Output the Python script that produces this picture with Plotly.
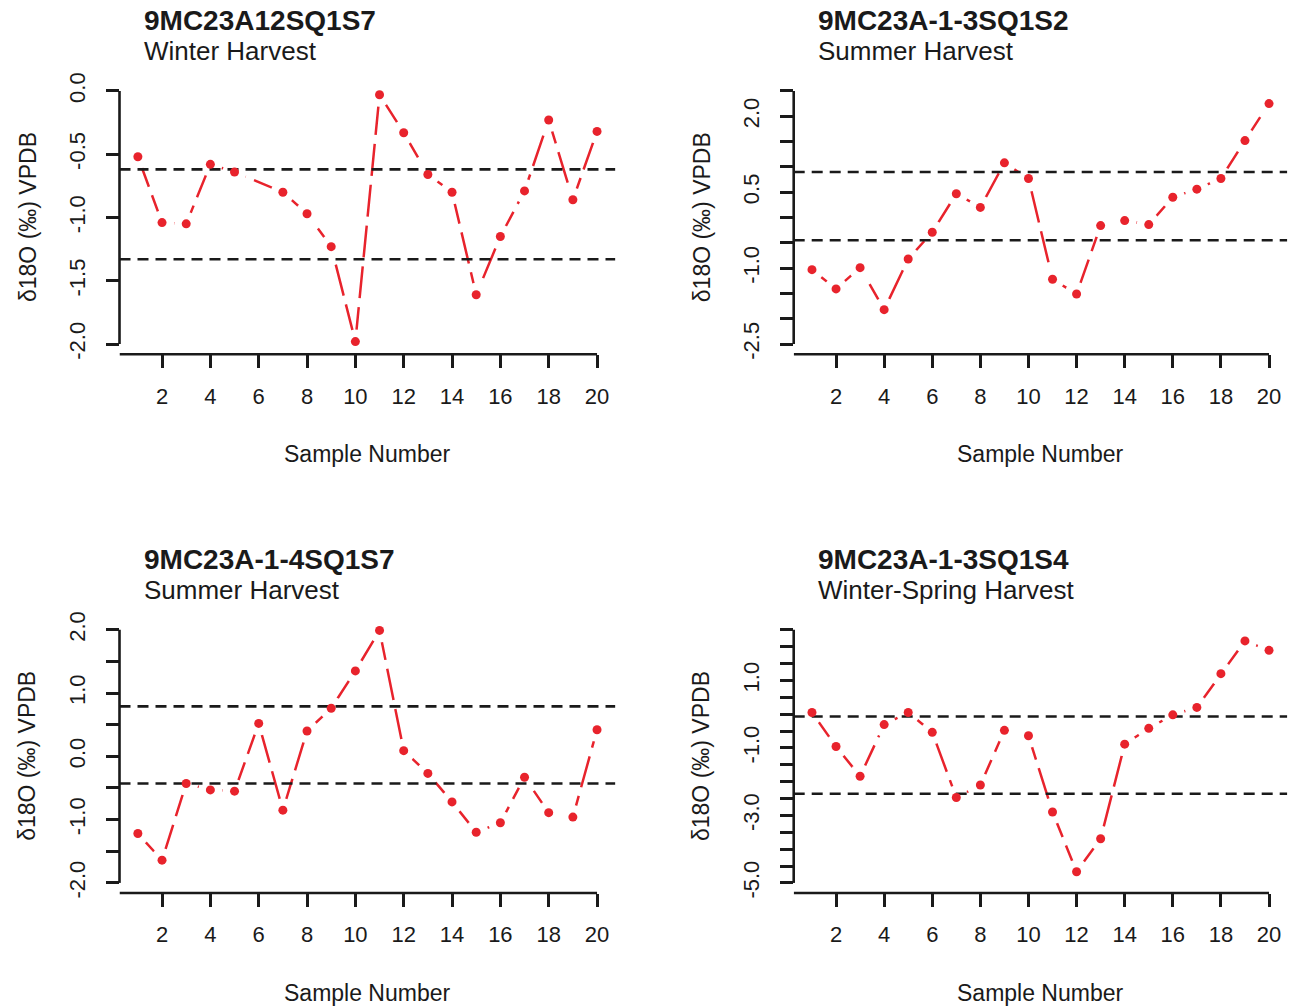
import plotly.graph_objects as go

W, H = 1298, 1008

# ---------------- data ----------------
samples = list(range(1, 21))
samples_a = [1, 2, 3, 4, 5, 7, 8, 9, 10, 11, 12, 13, 14, 15, 16, 17, 18, 19, 20]  # sample 6 absent

d18o_a = [-0.52, -1.04, -1.05, -0.58, -0.64, -0.80, -0.97, -1.23, -1.98, -0.03,
          -0.33, -0.66, -0.80, -1.61, -1.15, -0.79, -0.23, -0.86, -0.32]
d18o_b = [-1.03, -1.41, -0.99, -1.82, -0.82, -0.29, 0.47, 0.20, 1.08, 0.77,
          -1.22, -1.51, -0.16, -0.06, -0.14, 0.40, 0.56, 0.77, 1.52, 2.25]
d18o_c = [-1.22, -1.64, -0.43, -0.53, -0.55, 0.52, -0.85, 0.40, 0.76, 1.35,
          1.99, 0.09, -0.27, -0.72, -1.20, -1.05, -0.33, -0.89, -0.96, 0.42]
d18o_d = [0.05, -0.96, -1.84, -0.31, 0.05, -0.54, -2.47, -2.10, -0.48, -0.64,
          -2.90, -4.67, -3.69, -0.89, -0.42, -0.02, 0.20, 1.20, 2.17, 1.89]

thresh_a = [-0.62, -1.33]
thresh_b = [0.90, -0.45]
thresh_c = [0.79, -0.43]
thresh_d = [-0.07, -2.36]

titles = ["9MC23A12SQ1S7", "9MC23A-1-3SQ1S2", "9MC23A-1-4SQ1S7", "9MC23A-1-3SQ1S4"]
subtitles = ["Winter Harvest", "Summer Harvest", "Summer Harvest", "Winter-Spring Harvest"]

ylims = [(-2.0, 0.0), (-2.5, 2.5), (-2.0, 2.0), (-5.0, 2.5)]
ytick_a = [-2.0, -1.5, -1.0, -0.5, 0.0]
ytext_a = ["-2.0", "-1.5", "-1.0", "-0.5", "0.0"]
ytick_b = [-2.5, -2.0, -1.5, -1.0, -0.5, 0.0, 0.5, 1.0, 1.5, 2.0, 2.5]
ytext_b = ["-2.5", "", "", "-1.0", "", "", "0.5", "", "", "2.0", ""]
ytick_c = [-2.0, -1.5, -1.0, -0.5, 0.0, 0.5, 1.0, 1.5, 2.0]
ytext_c = ["-2.0", "", "-1.0", "", "0.0", "", "1.0", "", "2.0"]
ytick_d = [-5.0, -4.5, -4.0, -3.5, -3.0, -2.5, -2.0, -1.5, -1.0, -0.5, 0.0, 0.5, 1.0, 1.5, 2.0, 2.5]
ytext_d = ["-5.0", "", "", "", "-3.0", "", "", "", "-1.0", "", "", "", "1.0", "", "", ""]
xticks = [2, 4, 6, 8, 10, 12, 14, 16, 18, 20]
xtext = ["2", "4", "6", "8", "10", "12", "14", "16", "18", "20"]

xs = [samples_a, samples, samples, samples]
ys = [d18o_a, d18o_b, d18o_c, d18o_d]
ths = [thresh_a, thresh_b, thresh_c, thresh_d]
ytv = [ytick_a, ytick_b, ytick_c, ytick_d]
ytt = [ytext_a, ytext_b, ytext_c, ytext_d]

# ---------------- style / layout ----------------
RED = "#E8232C"
INK = "#1a1a1a"
FONT = "Liberation Sans, Arial, sans-serif"


def ry(p):
    # vertical pixel position measured on the reference -> layout pixel
    return (p - 7.3) / 0.9856


# plot regions in pixels (left, right, top, bottom) as measured on the reference
regions = [
    (119.5, 615.4, 80, 353),
    (793.7, 1287.3, 80, 353),
    (119.5, 615.4, 618, 891),
    (793.7, 1287.3, 618, 891),
]
xlim = (1, 20)

def ext(lo, hi):
    d = (hi - lo) * 0.04
    return [lo - d, hi + d]

fig = go.Figure()
annotations = []
shapes = []
layout = {}

for i in range(4):
    n = "" if i == 0 else str(i + 1)
    xa, ya = "x" + n, "y" + n
    L, R, T, B = regions[i]
    xr = ext(*xlim)
    yr = ext(*ylims[i])

    # red connecting line
    fig.add_trace(go.Scatter(x=xs[i], y=ys[i], mode="lines", xaxis=xa, yaxis=ya,
                             line=dict(color=RED, width=2.5, dash="32px,9px"),
                             hoverinfo="skip", showlegend=False))
    # white gaps around points (type="b" look)
    fig.add_trace(go.Scatter(x=xs[i], y=ys[i], mode="markers", xaxis=xa, yaxis=ya,
                             marker=dict(color="white", size=24, line=dict(width=0)),
                             hoverinfo="skip", showlegend=False))
    # horizontal dashed reference lines
    for t in ths[i]:
        fig.add_trace(go.Scatter(x=xr, y=[t, t], mode="lines", xaxis=xa, yaxis=ya,
                                 line=dict(color=INK, width=2.6, dash="11px,7px"),
                                 hoverinfo="skip", showlegend=False))
    # points
    fig.add_trace(go.Scatter(x=xs[i], y=ys[i], mode="markers", xaxis=xa, yaxis=ya,
                             marker=dict(color=RED, size=9, line=dict(width=0)),
                             showlegend=False))

    layout["xaxis" + n] = dict(
        domain=[L / W, R / W], range=xr, anchor=ya,
        tickvals=xticks, ticktext=xtext, ticks="outside", ticklen=13, tickwidth=2.5,
        tickcolor=INK, showline=False, showgrid=False, zeroline=False,
        tickfont=dict(family=FONT, size=22, color=INK), ticklabelstandoff=9,
    )
    layout["yaxis" + n] = dict(
        domain=[1 - ry(B) / H, 1 - ry(T) / H], range=yr, anchor=xa,
        tickvals=ytv[i], ticktext=ytt[i], ticks="outside", ticklen=13, tickwidth=2.5,
        tickcolor=INK, showline=False, showgrid=False, zeroline=False, tickangle=-90,
        tickfont=dict(family=FONT, size=22, color=INK), ticklabelstandoff=12,
    )

    # R-style axis lines
    shapes.append(dict(type="line", xref=xa + " domain", yref=ya, x0=0, x1=0,
                       y0=min(ytv[i]), y1=max(ytv[i]), line=dict(color=INK, width=2.6)))
    shapes.append(dict(type="line", xref=xa, yref=ya + " domain", x0=xr[0], x1=max(xticks),
                       y0=0, y1=0, line=dict(color=INK, width=2.6)))

    off = T - 80
    annotations.append(dict(text="<b>" + titles[i] + "</b>", x=(L + 22.5) / W, y=1 - ry(20 + off) / H,
                            xref="paper", yref="paper", xanchor="left", yanchor="middle",
                            showarrow=False, font=dict(family=FONT, size=28, color=INK)))
    annotations.append(dict(text=subtitles[i], x=(L + 22.5) / W, y=1 - ry(50 + off) / H,
                            xref="paper", yref="paper", xanchor="left", yanchor="middle",
                            showarrow=False, font=dict(family=FONT, size=26, color=INK)))
    annotations.append(dict(text="Sample Number", x=(L + R) / 2 / W, y=1 - ry(453 + off) / H,
                            xref="paper", yref="paper", xanchor="center", yanchor="middle",
                            showarrow=False, font=dict(family=FONT, size=23, color=INK)))
    annotations.append(dict(text="δ18O (‰) VPDB", x=(L - 92) / W, y=1 - ry((T + B) / 2) / H,
                            xref="paper", yref="paper", xanchor="center", yanchor="middle",
                            textangle=-90, showarrow=False,
                            font=dict(family=FONT, size=23, color=INK)))

fig.update_layout(
    autosize=True, margin=dict(l=0, r=0, t=0, b=0, pad=0),
    paper_bgcolor="white", plot_bgcolor="white",
    annotations=annotations, shapes=shapes, showlegend=False,
    **layout,
)

post = (
    "document.documentElement.style.margin='0';"
    "document.documentElement.style.padding='0';"
    "document.documentElement.style.overflow='hidden';"
    "document.body.style.margin='0';"
    "document.body.style.padding='0';"
    "document.body.style.overflow='hidden';"
    "var gd=document.getElementById('{plot_id}');"
    "Plotly.Plots.resize(gd);"
)

fig.write_html("out.html", config={"displayModeBar": False, "responsive": True},
               default_width="100vw", default_height="100vh", post_script=post)
